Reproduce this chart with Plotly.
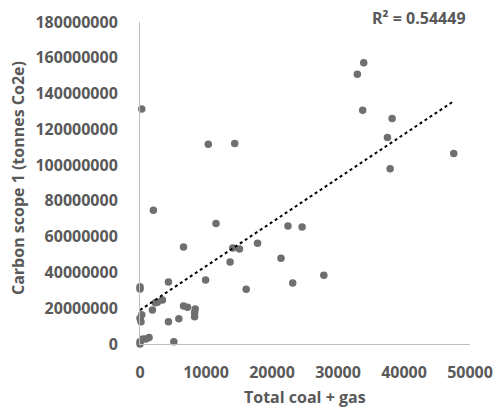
import numpy as np
import plotly.graph_objects as go

# Data
coal_gas = [2025, 11520, 6590, 14050, 15070, 17810, 22420, 24560, 13650, 21360,
            9940, 4310, 27850, 23140, 16090, 0, 0, 3400, 2630, 2330,
            1880, 260, 0, 150, 6590, 7200, 8370, 8270, 8270, 5890,
            4310, 5130, 1370, 870, 410, 0, 0, 260, 10350, 14350,
            33900, 32930, 33740, 38200, 37490, 47540, 37900]
carbon_scope1 = [74.7e6, 67.4e6, 54.2e6, 53.6e6, 53.1e6, 56.3e6, 65.9e6, 65.4e6, 45.8e6, 47.9e6,
                 35.8e6, 34.6e6, 38.4e6, 34.1e6, 30.6e6, 32.0e6, 30.7e6, 24.6e6, 23.3e6, 23.1e6,
                 19.0e6, 16.4e6, 14.4e6, 12.5e6, 21.2e6, 20.5e6, 19.6e6, 17.5e6, 15.3e6, 14.1e6,
                 12.5e6, 1.3e6, 3.7e6, 2.8e6, 2.8e6, 1.3e6, 0.0, 131.3e6, 111.7e6, 112.1e6,
                 157.2e6, 150.8e6, 130.7e6, 126.1e6, 115.5e6, 106.5e6, 97.9e6]
r2_label = "R² = 0.54449"
x_title = "Total coal + gas"
y_title = "Carbon scope 1 (tonnes Co2e)"

xa = np.array(coal_gas, dtype=float)
ya = np.array(carbon_scope1, dtype=float)
slope, intercept = np.polyfit(xa, ya, 1)
tx = np.array([xa.min(), xa.max()])
ty = slope * tx + intercept

txt = "#595959"
fnt = "Open Sans"
bold16 = dict(size=16, family=fnt, color=txt, weight="bold")

fig = go.Figure()
fig.add_trace(go.Scatter(x=coal_gas, y=carbon_scope1, mode="markers",
                         marker=dict(color="#6f6f6f", size=7.5, line=dict(width=0)),
                         cliponaxis=False, showlegend=False))
fig.add_trace(go.Scatter(x=tx, y=ty, mode="lines",
                         line=dict(color="black", width=2, dash="dot"),
                         showlegend=False))

fig.update_layout(
    width=497, height=408,
    margin=dict(l=140, r=27, t=22, b=64),
    paper_bgcolor="white", plot_bgcolor="white",
    font=dict(family=fnt, color=txt),
    xaxis=dict(range=[0, 50000], dtick=10000, tickformat="d", automargin=False,
               showgrid=False, zeroline=False, showline=True,
               linecolor="#bfbfbf", linewidth=1, ticks="",
               ticklabelstandoff=14, tickfont=bold16),
    yaxis=dict(range=[0, 180000000], dtick=20000000, tickformat="d", automargin=False,
               showgrid=False, zeroline=False, showline=True,
               linecolor="#bfbfbf", linewidth=1, ticks="",
               ticklabelstandoff=18, tickfont=bold16),
    annotations=[
        dict(text=r2_label, xref="paper", yref="paper",
             x=0.994, y=1.012, xanchor="right", yanchor="middle",
             showarrow=False, font=bold16),
        dict(text=x_title, xref="paper", yref="paper",
             x=0.5, y=-53 / 322, xanchor="center", yanchor="middle",
             showarrow=False, font=bold16),
        dict(text=y_title, xref="paper", yref="paper", textangle=-90,
             x=-122 / 330, y=(344 - 178) / 322, xanchor="center", yanchor="middle",
             showarrow=False, font=bold16),
    ],
)

fig.write_html("out.html")
